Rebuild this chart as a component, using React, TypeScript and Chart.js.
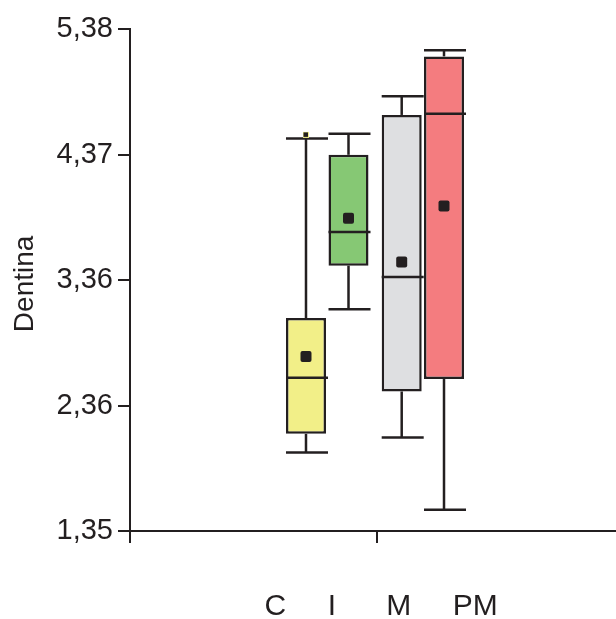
import React, { useEffect, useRef } from 'react';
import { Chart, registerables } from 'chart.js';

Chart.register(...registerables);

// ---- data ----
const GROUPS = ['C', 'I', 'M', 'PM'];
const MINS = [1.98, 3.13, 2.1, 1.52];
const Q1S = [2.13, 3.48, 2.47, 2.57];
const MEDIANS = [2.58, 3.75, 3.39, 4.7];
const Q3S = [3.06, 4.37, 4.69, 5.16];
const MAXS = [4.5, 4.54, 4.84, 5.21];
const MEANS = [2.75, 3.86, 3.51, 3.96];
const OUTLIERS = [[4.53], [], [], []];
const Y_TICKS = [1.35, 2.3575, 3.365, 4.3725, 5.38];
const Y_TICK_LABELS = ['1,35', '2,36', '3,36', '4,37', '5,38'];
const Y_TITLE = 'Dentina';

// ---- styles ----
const DARK = '#231f20';
const COLORS = ['#f2ef88', '#86c874', '#dedfe1', '#f47c7f'];
const CAT_PCT = [0.3833, 0.4615, 0.4, 0.3617];
const BAR_PCT = [0.845, 0.702, 0.81, 0.8955];
const GAPS = [5, 6, 5];
const FONT = 'Liberation Sans, Arial, Helvetica, sans-serif';

const xTitle = ' ' + GROUPS.map((g, i) => (i < GAPS.length ? g + ' '.repeat(GAPS[i]) : g)).join('');

const boxPlugin = {
  id: 'boxExtras',
  afterDatasetsDraw(chart: any) {
    const ctx = chart.ctx;
    const y = chart.scales.y;
    const area = chart.chartArea;
    ctx.save();
    ctx.strokeStyle = DARK;
    ctx.fillStyle = DARK;
    ctx.lineWidth = 2.5;
    ctx.lineCap = 'butt';
    const line = (x1: number, y1: number, x2: number, y2: number) => {
      ctx.beginPath();
      ctx.moveTo(x1, y1);
      ctx.lineTo(x2, y2);
      ctx.stroke();
    };
    GROUPS.forEach((_, i) => {
      const bar = chart.getDatasetMeta(i).data[0];
      if (!bar) return;
      const x = bar.x;
      const w = bar.width;
      const left = x - w / 2;
      const right = x + w / 2;
      const yMax = y.getPixelForValue(MAXS[i]);
      const yMin = y.getPixelForValue(MINS[i]);
      const yQ1 = y.getPixelForValue(Q1S[i]);
      const yQ3 = y.getPixelForValue(Q3S[i]);
      const yMed = y.getPixelForValue(MEDIANS[i]);
      const yMean = y.getPixelForValue(MEANS[i]);
      line(x, yQ3, x, yMax);
      line(x, yQ1, x, yMin);
      line(left, yMax, right + 2, yMax);
      line(left, yMin, right + 2, yMin);
      line(left, yMed, right + 2, yMed);
      ctx.beginPath();
      if (ctx.roundRect) ctx.roundRect(x - 5.5, yMean - 5.5, 11, 11, 2);
      else ctx.rect(x - 5.5, yMean - 5.5, 11, 11);
      ctx.fill();
      OUTLIERS[i].forEach((v) => {
        const yo = y.getPixelForValue(v);
        ctx.fillStyle = COLORS[i];
        ctx.fillRect(x - 3, yo - 3, 6, 6);
        ctx.fillStyle = DARK;
        ctx.fillRect(x - 2.5, yo - 2.5, 4.5, 4.5);
      });
    });
    // y axis continues a little below the x axis
    ctx.lineWidth = 2;
    line(area.left, area.bottom, area.left, area.bottom + 12);
    ctx.restore();
  },
};

export default function App() {
  const ref = useRef<HTMLCanvasElement | null>(null);

  useEffect(() => {
    if (!ref.current) return;
    const chart = new Chart(ref.current, {
      type: 'bar',
      data: {
        labels: [''],
        datasets: GROUPS.map((g, i) => ({
          label: g,
          data: [[Q1S[i], Q3S[i]]] as any,
          backgroundColor: COLORS[i],
          borderColor: DARK,
          borderWidth: 2.5,
          borderSkipped: false,
          categoryPercentage: CAT_PCT[i],
          barPercentage: BAR_PCT[i],
        })),
      },
      options: {
        animation: false,
        responsive: false,
        maintainAspectRatio: false,
        devicePixelRatio: 1,
        layout: { padding: { top: 29, left: 0, right: 0, bottom: 0 } },
        plugins: {
          legend: { display: false },
          tooltip: { enabled: false },
        },
        scales: {
          x: {
            type: 'category',
            offset: true,
            grid: {
              offset: false,
              drawOnChartArea: false,
              drawTicks: true,
              tickLength: 12,
              color: DARK,
              lineWidth: 2,
            },
            border: { display: true, color: DARK, width: 2 },
            ticks: { display: false },
            title: {
              display: true,
              text: xTitle,
              color: DARK,
              font: { family: FONT, size: 30, lineHeight: 0.8 },
              padding: { top: 0, bottom: 0 },
            },
            afterFit: (s: any) => {
              s.height = 88;
            },
          },
          y: {
            min: 1.35,
            max: 5.38,
            afterBuildTicks: (s: any) => {
              s.ticks = Y_TICKS.map((v) => ({ value: v }));
            },
            ticks: {
              autoSkip: false,
              padding: 5,
              color: DARK,
              font: { family: FONT, size: 29 },
              callback: (_v: any, idx: number) => Y_TICK_LABELS[idx],
            },
            grid: {
              drawOnChartArea: false,
              drawTicks: true,
              tickLength: 12,
              color: DARK,
              lineWidth: 2,
            },
            border: { display: true, color: DARK, width: 2 },
            title: {
              display: true,
              text: Y_TITLE + ' ',
              color: DARK,
              font: { family: FONT, size: 28, lineHeight: 1.2 },
              padding: { top: 8, bottom: 0 },
            },
            afterFit: (s: any) => {
              s.width = 130;
            },
          },
        },
      },
      plugins: [boxPlugin],
    });
    return () => chart.destroy();
  }, []);

  return (
    <div
      style={{
        position: 'absolute',
        left: 0,
        top: 0,
        width: 616,
        height: 619,
        overflow: 'hidden',
        background: '#fff',
      }}
    >
      <canvas ref={ref} width={624} height={619} style={{ display: 'block' }} />
    </div>
  );
}
